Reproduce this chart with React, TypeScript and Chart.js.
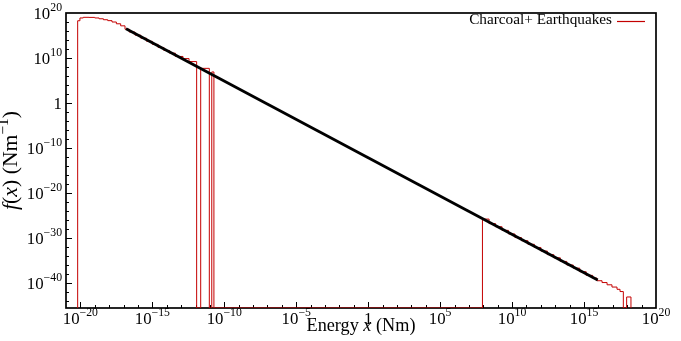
import React, { useEffect, useRef } from 'react';
import { Chart, registerables } from 'chart.js';

Chart.register(...registerables);

// Histogram bin edges (Nm) and densities f(x) (Nm^-1); a density of 0 means an empty bin
const histEdges = [
  6.46e-21, 9.3e-21, 1.58e-20, 3.98e-20, 1e-19, 2e-19, 3.98e-19, 7.94e-19, 1.58e-18, 3.16e-18,
  6.31e-18, 1.26e-17, 2.51e-17, 6.31e-17, 1.58e-16, 3.98e-16, 1e-15, 2.51e-15, 6.31e-15, 1.58e-14,
  3.98e-14, 1.35e-13, 3.55e-13, 1.2e-12, 2.29e-12, 9.1e-12, 1.35e-11, 1.9e-11,
  8.7e7, 2.51e8, 7.08e8, 2e9, 5.62e9, 1.58e10, 4.47e10, 1.26e11, 3.55e11, 1e12, 2.82e12, 7.94e12,
  2.24e13, 6.31e13, 1.78e14, 5.01e14, 1.41e15, 3.98e15, 7.94e15, 1.78e16, 3.98e16, 8.7e16,
  1.95e17, 3.16e17, 5.37e17, 9.12e17, 1.82e18,
];
const histDensity = [
  1.9e18, 7.9e18, 1.1e19, 1.05e19, 7.9e18, 5.2e18, 3.2e18, 2.0e18, 1e18, 4e17,
  1.4e17, 2.5e16, 5.8e15, 1.2e15, 2.5e14, 5.1e13, 1.07e13, 2.2e12, 4.7e11, 1.2e11,
  2.2e10, 7.4e9, 1.6e9, 0, 5e7, 0, 8e6, 0,
  1.6e-26, 1.6e-27, 3.2e-28, 5e-29, 7.9e-30, 1.26e-30, 2.5e-31, 4e-32, 7.9e-33, 1.26e-33,
  2e-34, 4e-35, 6.3e-36, 1e-36, 2e-37, 3.2e-38, 5e-39, 1.26e-39, 3.2e-40, 1.26e-40,
  4e-41, 1.26e-41, 4e-42, 1.26e-42, 0, 7.9e-44,
];

// Power-law fit line endpoints
const fitX = [1.48e-17, 8.9e15];
const fitY = [3.1e16, 4.5e-40];

// Tick label exponents (10^n)
const xTickExps = [-20, -15, -10, -5, 0, 5, 10, 15, 20];
const yTickExps = [20, 10, 0, -10, -20, -30, -40];

const legendLabel = 'Charcoal+ Earthquakes';

const X_MIN = 1e-21;
const X_MAX = 1e20;
const Y_MIN = 2.8e-46;
const Y_MAX = 1e20;

const RED = '#c40000';
const FONT = '"Liberation Serif", "Times New Roman", serif';

type Seg = { t: string; it?: boolean; sup?: boolean };

function segFont(s: Seg, size: number) {
  const sz = s.sup ? size * 0.7 : size;
  return `${s.it ? 'italic ' : ''}${sz}px ${FONT}`;
}

function segsWidth(ctx: CanvasRenderingContext2D, segs: Seg[], size: number) {
  let w = 0;
  for (const s of segs) {
    ctx.font = segFont(s, size);
    w += ctx.measureText(s.t).width;
  }
  return w;
}

function drawSegs(ctx: CanvasRenderingContext2D, segs: Seg[], x: number, y: number, size: number, align: 'left' | 'center' | 'right') {
  const total = segsWidth(ctx, segs, size);
  let cx = align === 'left' ? x : align === 'center' ? x - total / 2 : x - total;
  ctx.textAlign = 'left';
  ctx.textBaseline = 'alphabetic';
  for (const s of segs) {
    ctx.font = segFont(s, size);
    ctx.fillText(s.t, cx, s.sup ? y - size * 0.42 : y);
    cx += ctx.measureText(s.t).width;
  }
}

function fitSize(ctx: CanvasRenderingContext2D, segs: Seg[], target: number) {
  return (16 * target) / segsWidth(ctx, segs, 16);
}

function powLabel(exp: number): Seg[] {
  if (exp === 0) return [{ t: '1' }];
  return [{ t: '10' }, { t: exp < 0 ? '\u2212' + -exp : String(exp), sup: true }];
}

const decorPlugin = {
  id: 'decor',
  beforeDatasetsDraw(chart: any) {
    const ctx: CanvasRenderingContext2D = chart.ctx;
    const { left, right, top, bottom } = chart.chartArea;
    const xs = chart.scales.x;
    const ys = chart.scales.y;
    ctx.save();
    ctx.strokeStyle = '#000';
    ctx.lineWidth = 1;
    ctx.beginPath();
    for (let e = -20; e <= 19; e++) {
      const px = Math.round(xs.getPixelForValue(Math.pow(10, e))) + 0.5;
      const len = e % 5 === 0 ? 6 : 3;
      ctx.moveTo(px, bottom);
      ctx.lineTo(px, bottom - len);
    }
    for (let e = -44; e <= 18; e += 2) {
      const py = Math.round(ys.getPixelForValue(Math.pow(10, e))) + 0.5;
      const len = e % 10 === 0 ? 6 : 3;
      ctx.moveTo(left, py);
      ctx.lineTo(left + len, py);
    }
    ctx.stroke();
    ctx.lineWidth = 1.7;
    ctx.strokeRect(left, top, right - left, bottom - top);
    ctx.restore();
  },
  afterDraw(chart: any) {
    const ctx: CanvasRenderingContext2D = chart.ctx;
    const { left, right, top, bottom } = chart.chartArea;
    const xs = chart.scales.x;
    const ys = chart.scales.y;
    ctx.save();
    ctx.fillStyle = '#000';
    for (const e of xTickExps) {
      const px = xs.getPixelForValue(Math.pow(10, e));
      drawSegs(ctx, powLabel(e), px, bottom + 15.5, 16.8, 'center');
    }
    for (const e of yTickExps) {
      const py = ys.getPixelForValue(Math.pow(10, e));
      drawSegs(ctx, powLabel(e), left - 4, py + 5.5, 16.8, 'right');
    }
    // x title
    const xt: Seg[] = [{ t: 'Energy ' }, { t: 'x', it: true }, { t: ' (Nm)' }];
    const xs2 = fitSize(ctx, xt, 109);
    drawSegs(ctx, xt, (left + right) / 2, bottom + 23, xs2, 'center');
    // y title
    const yt: Seg[] = [
      { t: 'f', it: true }, { t: '(' }, { t: 'x', it: true }, { t: ') (Nm' }, { t: '\u22121', sup: true }, { t: ')' },
    ];
    const ys2 = fitSize(ctx, yt, 99);
    ctx.save();
    ctx.translate(17, (top + bottom) / 2);
    ctx.rotate(-Math.PI / 2);
    drawSegs(ctx, yt, 0, 0, ys2, 'center');
    ctx.restore();
    // legend
    const lg: Seg[] = [{ t: legendLabel }];
    const ls = fitSize(ctx, lg, 143);
    drawSegs(ctx, lg, right - 44, top + 11, ls, 'right');
    ctx.strokeStyle = RED;
    ctx.lineWidth = 1.2;
    ctx.beginPath();
    ctx.moveTo(right - 39, top + 8.5);
    ctx.lineTo(right - 11, top + 8.5);
    ctx.stroke();
    ctx.restore();
  },
};

export default function App() {
  const ref = useRef<HTMLCanvasElement | null>(null);

  useEffect(() => {
    if (!ref.current) return;
    const histPts: { x: number; y: number }[] = [{ x: histEdges[0], y: Y_MIN }];
    for (let i = 0; i < histDensity.length; i++) {
      histPts.push({ x: histEdges[i], y: histDensity[i] === 0 ? Y_MIN : histDensity[i] });
    }
    histPts.push({ x: histEdges[histEdges.length - 1], y: Y_MIN });
    const fitPts = fitX.map((x, i) => ({ x, y: fitY[i] }));

    const chart = new Chart(ref.current, {
      type: 'line',
      data: {
        datasets: [
          {
            label: 'fit',
            data: fitPts,
            borderColor: '#000',
            borderWidth: 2.8,
            pointRadius: 0,
            fill: false,
            tension: 0,
          },
          {
            label: legendLabel,
            data: histPts,
            borderColor: RED,
            borderWidth: 1,
            pointRadius: 0,
            fill: false,
            stepped: 'before',
          },
        ],
      },
      options: {
        responsive: false,
        animation: false,
        devicePixelRatio: 1,
        layout: { padding: { left: 66, right: 25, top: 13, bottom: 33 } },
        plugins: { legend: { display: false }, tooltip: { enabled: false } },
        scales: {
          x: { type: 'logarithmic', min: X_MIN, max: X_MAX, display: false },
          y: { type: 'logarithmic', min: Y_MIN, max: Y_MAX, display: false },
        },
      },
      plugins: [decorPlugin],
    } as any);
    return () => chart.destroy();
  }, []);

  return (
    <div style={{ position: 'fixed', left: 0, top: 0, width: 681, height: 341, background: '#fff' }}>
      <canvas ref={ref} width={681} height={341} style={{ display: 'block', width: 681, height: 341 }} />
    </div>
  );
}
